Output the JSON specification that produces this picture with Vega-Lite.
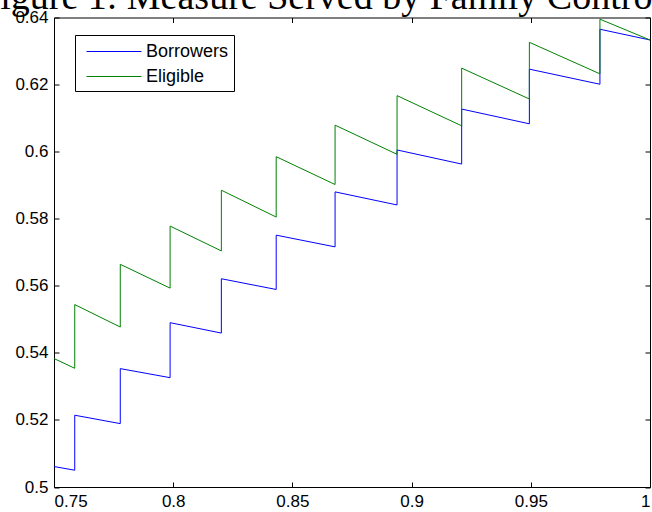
{
  "$schema": "https://vega.github.io/schema/vega-lite/v6.json",
  "width": 596,
  "height": 469.5,
  "autosize": {"type": "none"},
  "padding": {"left": 54, "top": 17.5, "right": 2, "bottom": 25},
  "background": "white",
  "title": {"text": "Figure 1: Measure Served by Family Control", "font": "Liberation Serif", "fontSize": 38, "fontWeight": "normal", "color": "black", "anchor": "middle", "frame": "group", "baseline": "alphabetic", "offset": -38.5, "dx": -31, "zindex": 1},
  "config": {
    "view": {"stroke": "black", "strokeWidth": 1},
    "axis": {"grid": false, "domain": false, "tickColor": "black", "tickWidth": 1, "labelFont": "Liberation Sans", "labelFontSize": 17, "labelColor": "black", "labelPadding": 6}
  },
  "data": {"values": [
    {"series": "Borrowers", "i": 0, "x": 0.75, "y": 0.5061},
    {"series": "Borrowers", "i": 1, "x": 0.7587, "y": 0.5050},
    {"series": "Borrowers", "i": 2, "x": 0.7587, "y": 0.5214},
    {"series": "Borrowers", "i": 3, "x": 0.7778, "y": 0.5189},
    {"series": "Borrowers", "i": 4, "x": 0.7778, "y": 0.5353},
    {"series": "Borrowers", "i": 5, "x": 0.7987, "y": 0.5326},
    {"series": "Borrowers", "i": 6, "x": 0.7987, "y": 0.5490},
    {"series": "Borrowers", "i": 7, "x": 0.8202, "y": 0.5459},
    {"series": "Borrowers", "i": 8, "x": 0.8202, "y": 0.5621},
    {"series": "Borrowers", "i": 9, "x": 0.8432, "y": 0.5589},
    {"series": "Borrowers", "i": 10, "x": 0.8432, "y": 0.5751},
    {"series": "Borrowers", "i": 11, "x": 0.8679, "y": 0.5716},
    {"series": "Borrowers", "i": 12, "x": 0.8679, "y": 0.5880},
    {"series": "Borrowers", "i": 13, "x": 0.8939, "y": 0.5841},
    {"series": "Borrowers", "i": 14, "x": 0.8939, "y": 0.6005},
    {"series": "Borrowers", "i": 15, "x": 0.9210, "y": 0.5963},
    {"series": "Borrowers", "i": 16, "x": 0.9210, "y": 0.6127},
    {"series": "Borrowers", "i": 17, "x": 0.9494, "y": 0.6083},
    {"series": "Borrowers", "i": 18, "x": 0.9494, "y": 0.6246},
    {"series": "Borrowers", "i": 19, "x": 0.9790, "y": 0.6201},
    {"series": "Borrowers", "i": 20, "x": 0.9790, "y": 0.6365},
    {"series": "Borrowers", "i": 21, "x": 1.0, "y": 0.6333},
    {"series": "Eligible", "i": 0, "x": 0.75, "y": 0.5383},
    {"series": "Eligible", "i": 1, "x": 0.7587, "y": 0.5354},
    {"series": "Eligible", "i": 2, "x": 0.7587, "y": 0.5544},
    {"series": "Eligible", "i": 3, "x": 0.7778, "y": 0.5477},
    {"series": "Eligible", "i": 4, "x": 0.7778, "y": 0.5664},
    {"series": "Eligible", "i": 5, "x": 0.7987, "y": 0.5593},
    {"series": "Eligible", "i": 6, "x": 0.7987, "y": 0.5778},
    {"series": "Eligible", "i": 7, "x": 0.8202, "y": 0.5704},
    {"series": "Eligible", "i": 8, "x": 0.8202, "y": 0.5885},
    {"series": "Eligible", "i": 9, "x": 0.8432, "y": 0.5805},
    {"series": "Eligible", "i": 10, "x": 0.8432, "y": 0.5985},
    {"series": "Eligible", "i": 11, "x": 0.8679, "y": 0.5902},
    {"series": "Eligible", "i": 12, "x": 0.8679, "y": 0.6079},
    {"series": "Eligible", "i": 13, "x": 0.8939, "y": 0.5992},
    {"series": "Eligible", "i": 14, "x": 0.8939, "y": 0.6167},
    {"series": "Eligible", "i": 15, "x": 0.9210, "y": 0.6077},
    {"series": "Eligible", "i": 16, "x": 0.9210, "y": 0.6249},
    {"series": "Eligible", "i": 17, "x": 0.9494, "y": 0.6157},
    {"series": "Eligible", "i": 18, "x": 0.9494, "y": 0.6326},
    {"series": "Eligible", "i": 19, "x": 0.9790, "y": 0.6232},
    {"series": "Eligible", "i": 20, "x": 0.9790, "y": 0.6395},
    {"series": "Eligible", "i": 21, "x": 1.0, "y": 0.6333}
  ]},
  "layer": [
    {
      "mark": {"type": "line", "strokeWidth": 1, "clip": true},
      "encoding": {
        "x": {"field": "x", "type": "quantitative", "title": null, "scale": {"domain": [0.75, 1], "nice": false, "zero": false}, "axis": {"orient": "bottom", "ticks": false, "values": [0.75, 0.8, 0.85, 0.9, 0.95, 1], "format": "~g"}},
        "y": {"field": "y", "type": "quantitative", "title": null, "scale": {"domain": [0.5, 0.64], "nice": false, "zero": false}, "axis": {"orient": "left", "ticks": false, "values": [0.5, 0.52, 0.54, 0.56, 0.58, 0.6, 0.62, 0.64], "format": "~g"}},
        "color": {"field": "series", "type": "nominal", "scale": {"domain": ["Borrowers", "Eligible"], "range": ["#0000ff", "#008000"]},
          "legend": {"orient": "none", "legendX": 21, "legendY": 17.5, "title": null, "symbolType": "M-0.4545,0H4.545", "symbolSize": 484, "symbolStrokeWidth": 1, "labelFont": "Liberation Sans", "labelFontSize": 18, "labelColor": "black", "strokeColor": "black", "fillColor": "white", "padding": 5, "rowPadding": 4, "labelOffset": 43, "direction": "vertical",
            "encode": {"symbols": {"update": {"stroke": {"scale": "color", "field": "value"}, "fill": {"value": "transparent"}}}}}},
        "order": {"field": "i", "type": "quantitative"}
      }
    },
    {
      "mark": {"type": "point", "opacity": 0},
      "encoding": {
        "x": {"field": "x", "type": "quantitative", "title": null, "axis": {"orient": "top", "labels": false, "offset": -5, "tickSize": 5, "values": [0.75, 0.8, 0.85, 0.9, 0.95, 1]}},
        "y": {"field": "y", "type": "quantitative", "title": null, "axis": {"orient": "right", "labels": false, "offset": -5, "tickSize": 5, "values": [0.5, 0.52, 0.54, 0.56, 0.58, 0.6, 0.62, 0.64]}}
      }
    },
    {
      "mark": {"type": "point", "opacity": 0},
      "encoding": {
        "x": {"field": "x", "type": "quantitative", "title": null, "axis": {"orient": "bottom", "labels": false, "offset": -5, "tickSize": 5, "values": [0.75, 0.8, 0.85, 0.9, 0.95, 1]}},
        "y": {"field": "y", "type": "quantitative", "title": null, "axis": {"orient": "left", "labels": false, "offset": -5, "tickSize": 5, "values": [0.5, 0.52, 0.54, 0.56, 0.58, 0.6, 0.62, 0.64]}}
      }
    }
  ],
  "resolve": {"axis": {"x": "independent", "y": "independent"}}
}
